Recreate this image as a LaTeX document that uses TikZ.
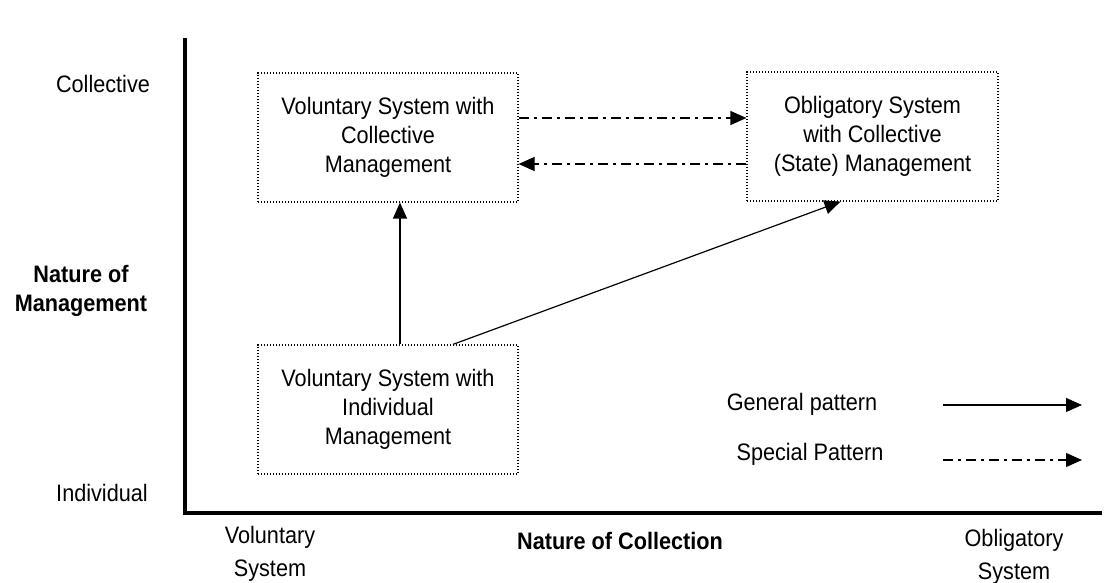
\documentclass[tikz,border=0pt]{standalone}
\usepackage{fontspec}
\setmainfont[FakeStretch=0.91]{Liberation Sans}
\usetikzlibrary{arrows.meta,positioning}
\newcommand{\boxtext}[1]{\raisebox{3.5pt}{\begin{tabular}{@{}c@{}}#1\end{tabular}}}
\tikzset{
  sysbox/.style={draw,line width=0.6pt,dash pattern=on 0.7pt off 0.8pt,minimum width=130pt,minimum height=64.5pt,inner sep=0pt},
  axislabel/.style={align=center},
  endlabel/.style={align=center,font=\fontsize{11.9}{16.5}\selectfont},
  general/.style={line width=0.6pt,-{Triangle[length=8pt,width=7pt]}},
  special/.style={line width=0.6pt,dash pattern=on 5pt off 2.5pt on 1.5pt off 2.5pt,-{Triangle[length=8pt,width=7pt]}}
}
\begin{document}
\begin{tikzpicture}[x=0.5pt,y=-0.5pt,font=\fontsize{11.9}{14.5}\selectfont]
    \useasboundingbox (0,0) rectangle (1116,583);
    \coordinate (ytop) at (185,38);
    \coordinate (orig) at (185,513);
    \coordinate (xend) at (1102,513);
    \draw[line width=2pt] (ytop) -- (orig) -- (xend);
    \node (vc) [sysbox] at (388,137.5) {\boxtext{Voluntary System with\\Collective\\Management}};
    \node (oc) [sysbox,minimum width=125.5pt] at (872.5,136.5) {\boxtext{Obligatory System\\with Collective\\(State) Management}};
    \node (vi) [sysbox] at (388,409.5) {\boxtext{Voluntary System with\\Individual\\Management}};
    \draw[special] (vc.east |- 0,118) -- (oc.west |- 0,118);
    \draw[special] (oc.west |- 0,164) -- (vc.east |- 0,164);
    \draw[general] (vi.north -| 400,0) -- (vc.south -| 400,0);
    \draw[general] (vi.north -| 453,0) -- ([xshift=-16pt]oc.south);
    \node (coll) [axislabel] at (103,84) {Collective};
    \node (indiv) [axislabel] at (102,493) {Individual};
    \node (nman) [axislabel,font=\fontsize{11.9}{14.5}\selectfont\bfseries] at (81,291) {Nature of\\Management};
    \node (vsys) [endlabel] at (270,554) {Voluntary\\System};
    \node (ncoll) [axislabel,font=\fontsize{11.9}{14.5}\selectfont\bfseries] at (620,541) {Nature of Collection};
    \node (osys) [endlabel] at (1014,557) {Obligatory\\System};
    \node (gen) at (802,404) {General pattern};
    \node (spec) at (810,454) {Special Pattern};
    \coordinate (g1) at (943,405);
    \coordinate (g2) at (1082,405);
    \coordinate (s1) at (943,460);
    \coordinate (s2) at (1082,460);
    \draw[general] (g1) -- (g2);
    \draw[special] (s1) -- (s2);
\end{tikzpicture}
\end{document}
